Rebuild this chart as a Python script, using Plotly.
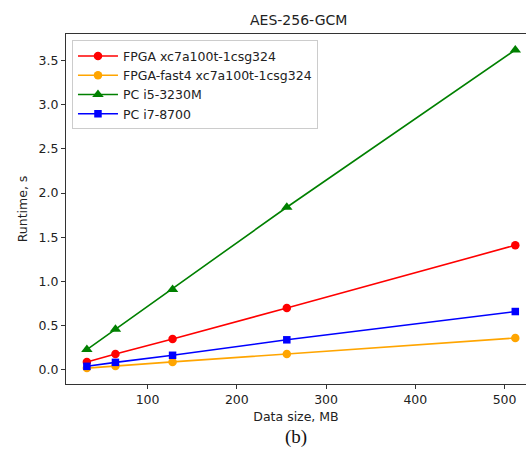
import plotly.graph_objects as go

sizes = [32, 64, 128, 256, 512]
fpga = [0.09, 0.18, 0.35, 0.70, 1.41]
fpga_fast4 = [0.02, 0.045, 0.09, 0.18, 0.36]
pc_i5 = [0.23, 0.46, 0.91, 1.84, 3.62]
pc_i7 = [0.04, 0.085, 0.165, 0.34, 0.66]

series = [
    ("FPGA xc7a100t-1csg324", fpga, "#ff0000", "circle", 8.5),
    ("FPGA-fast4 xc7a100t-1csg324", fpga_fast4, "#ffa500", "circle", 8.5),
    ("PC i5-3230M", pc_i5, "#008000", "triangle-up", 10),
    ("PC i7-8700", pc_i7, "#0000ff", "square", 7.5),
]

fig = go.Figure()
for name, vals, col, sym, ms in series:
    fig.add_trace(go.Scatter(
        x=sizes, y=vals, name=name, mode="lines+markers",
        line=dict(color=col, width=1.6),
        marker=dict(color=col, symbol=sym, size=ms),
    ))

W, H = 526, 452
L, R, T, B = 66, 0, 34, 68

fig.update_layout(
    width=W, height=H,
    margin=dict(l=L, r=R, t=T, b=B),
    paper_bgcolor="white", plot_bgcolor="white",
    font=dict(family="DejaVu Sans", size=12.5, color="#222"),
    showlegend=True,
    legend=dict(x=0.013, y=0.982, xanchor="left", yanchor="top",
                bordercolor="#cccccc", borderwidth=1, bgcolor="rgba(255,255,255,0.8)",
                font=dict(size=12.5, color="#222"), itemwidth=40, tracegroupgap=0),
    xaxis=dict(range=[8.6, 524], showgrid=False, zeroline=False,
               showline=True, linecolor="#333", linewidth=1, mirror=True,
               ticks="outside", ticklen=4, tickcolor="#333",
               tickvals=[100, 200, 300, 400, 500],
               title=dict(text="Data size, MB", font=dict(size=12.5), standoff=6)),
    yaxis=dict(range=[-0.16, 3.80], showgrid=False, zeroline=False,
               showline=True, linecolor="#333", linewidth=1, mirror=False,
               ticks="outside", ticklen=4, tickcolor="#333",
               tickvals=[0, 0.5, 1.0, 1.5, 2.0, 2.5, 3.0, 3.5], tickformat=".1f",
               title=dict(text="Runtime, s", font=dict(size=12.5), standoff=8)),
    annotations=[
        dict(text="AES-256-GCM", xref="paper", yref="paper", x=0.506, y=1.0,
             xanchor="center", yanchor="bottom", yshift=4, showarrow=False,
             font=dict(size=14, color="#222")),
        dict(text="(b)", xref="paper", yref="paper", x=0.5, y=0, yshift=-66,
             xanchor="center", yanchor="bottom", showarrow=False,
             font=dict(family="Liberation Serif", size=19, color="#111")),
    ],
)

fig.write_html("out.html")
